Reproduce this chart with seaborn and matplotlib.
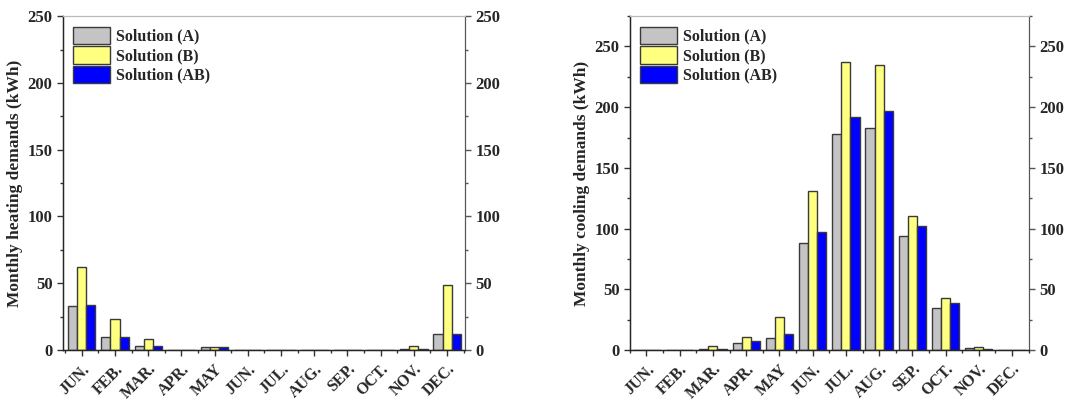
import pandas as pd
import matplotlib.pyplot as plt
import seaborn as sns
import numpy as np
from matplotlib.ticker import MultipleLocator

sns.set_style("ticks")
plt.rcParams['font.family'] = ['Liberation Serif', 'DejaVu Serif']
plt.rcParams['font.weight'] = 'bold'

months = ['JUN.', 'FEB.', 'MAR.', 'APR.', 'MAY', 'JUN.', 'JUL.', 'AUG.', 'SEP.', 'OCT.', 'NOV.', 'DEC.']
solutions = ['Solution (A)', 'Solution (B)', 'Solution (AB)']

heat_a = [33, 10, 3, 0, 2, 0, 0, 0, 0, 0, 0.5, 12]
heat_b = [62, 23, 8, 0, 2, 0, 0, 0, 0, 0, 3, 49]
heat_ab = [34, 10, 3, 0, 2, 0, 0, 0, 0, 0, 0.5, 12]

cool_a = [0, 0, 1, 6, 10, 88, 178, 183, 94, 35, 1.5, 0]
cool_b = [0, 0, 3, 10.5, 27, 131, 237, 235, 110, 43, 2.5, 0]
cool_ab = [0, 0, 1, 7.5, 13, 97, 192, 197, 102.5, 39, 1, 0]

colors = ['#c4c4c4', '#ffff80', '#0000ff']
edge = '#3a3a3a'


def to_long(a, b, ab):
    rows = []
    for i in range(len(months)):
        for s, vals in zip(solutions, [a, b, ab]):
            rows.append({'month': i, 'solution': s, 'value': vals[i]})
    return pd.DataFrame(rows)


fig = plt.figure(figsize=(10.84, 4.03), dpi=100)
ax1 = fig.add_axes([0.058, 0.1315, 0.371, 0.8285])
ax2 = fig.add_axes([0.581, 0.1315, 0.368, 0.8285])

panels = [
    (ax1, to_long(heat_a, heat_b, heat_ab), 'Monthly heating demands (kWh)', 250, (-0.57, 11.54)),
    (ax2, to_long(cool_a, cool_b, cool_ab), 'Monthly cooling demands (kWh)', 275, (-0.5, 11.5)),
]

fs = 12

for ax, df, ylabel, ytop, xlim in panels:
    sns.barplot(data=df, x='month', y='value', hue='solution', hue_order=solutions,
                palette=colors, edgecolor=edge, linewidth=1.0, width=0.82,
                saturation=1, ax=ax)
    ax.set_ylim(0, ytop)
    ax.set_xlim(*xlim)
    ax.yaxis.set_major_locator(MultipleLocator(50))
    ax.yaxis.set_minor_locator(MultipleLocator(25))
    ax.set_xticks(range(len(months)))
    ax.set_xticks(np.arange(len(months) + 1) - 0.5, minor=True)
    ax.set_xticklabels(months, rotation=45, ha='right', rotation_mode='anchor',
                       fontsize=11.5, fontweight='bold')
    ax.set_xlabel('')
    ax.set_ylabel(ylabel, fontsize=12.5, fontweight='bold', labelpad=3)
    ax.tick_params(axis='y', which='major', labelsize=fs)
    ax.tick_params(axis='both', which='major', length=4, width=1, direction='out',
                   color='#333333')
    ax.tick_params(axis='both', which='minor', length=2.5, width=1, direction='out',
                   color='#333333')
    ax.tick_params(axis='x', which='major', pad=4)
    for lbl in ax.get_yticklabels():
        lbl.set_fontweight('bold')
    for side in ['left', 'bottom']:
        ax.spines[side].set_color('#222222')
        ax.spines[side].set_linewidth(1.0)
    ax.spines['top'].set_color('#bbbbbb')
    ax.spines['right'].set_color('#555555')

    twin = ax.twinx()
    twin.set_ylim(0, ytop)
    twin.yaxis.set_major_locator(MultipleLocator(50))
    twin.yaxis.set_minor_locator(MultipleLocator(25))
    twin.tick_params(axis='y', which='major', length=4, width=1, labelsize=fs, color='#555555')
    twin.tick_params(axis='y', which='minor', length=2.5, width=1, color='#555555')
    for lbl in twin.get_yticklabels():
        lbl.set_fontweight('bold')
    twin.spines['right'].set_color('#555555')
    twin.spines['top'].set_color('#bbbbbb')

    ax.legend(loc='upper left', frameon=False, handlelength=2.3,
              handleheight=1.3, labelspacing=0.1, handletextpad=0.35,
              borderaxespad=0.25, prop={'weight': 'bold', 'size': 11.5})

fig.savefig('out.png', dpi=100)
